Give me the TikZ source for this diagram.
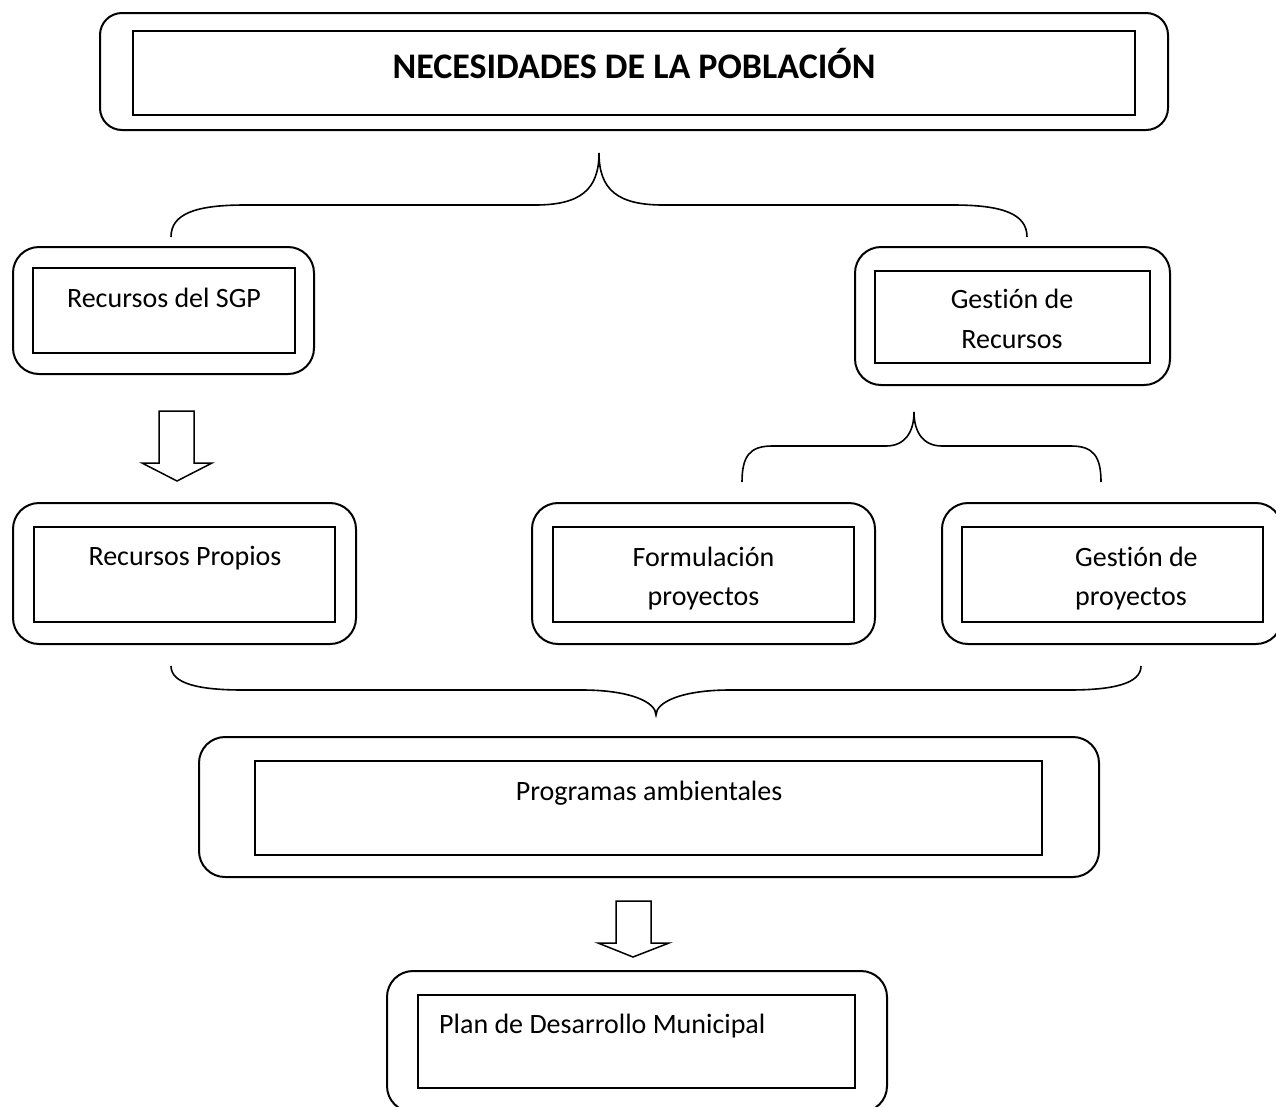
\documentclass[tikz,border=0pt]{standalone}
\usepackage{fontspec}
\setmainfont{Carlito}[Ligatures={NoCommon}]
\begin{document}
\begin{tikzpicture}[x=1pt,y=-1pt,
  outerbox/.style={draw, line width=2pt, rounded corners=26pt, rectangle, inner sep=0pt, outer sep=0pt},
  innerbox/.style={draw, line width=1.8pt, rectangle, inner sep=0pt, outer sep=0pt},
  lbl/.style={font=\fontsize{28}{40}\selectfont, inner sep=0pt, anchor=base},
  bracel/.style={draw, line width=1.6pt},
  hollow/.style={draw, line width=1.5pt, fill=white, line join=miter}
]
\useasboundingbox (0,0) rectangle (1276,1106);
\clip (0,0) rectangle (1276,1106);

% Top box
\node[outerbox, rounded corners=22pt, minimum width=1068pt, minimum height=117pt] (topO) at (634,71.5) {};
\node[innerbox, minimum width=1002pt, minimum height=84pt] (topI) at (634,73) {};
\node[inner sep=0pt, anchor=base, font=\fontsize{36}{44}\selectfont\bfseries] (title) at (634,78) {NECESIDADES DE LA POBLACIÓN};

% Recursos del SGP
\node[outerbox, minimum width=301pt, minimum height=127pt] (sgpO) at (163.5,310.5) {};
\node[innerbox, minimum width=262pt, minimum height=85pt] (sgpI) at (164,310.5) {};
\node[lbl] (sgpT) at (164,307) {Recursos del SGP};

% Gestion de Recursos
\node[outerbox, minimum width=315pt, minimum height=138pt] (grO) at (1012.5,316) {};
\node[innerbox, minimum width=275pt, minimum height=92pt] (grI) at (1012.5,317) {};
\node[lbl] (grT1) at (1012,308) {Gestión de};
\node[lbl] (grT2) at (1012,348) {Recursos};

% Recursos Propios
\node[outerbox, minimum width=343pt, minimum height=141pt] (rpO) at (184.5,573.5) {};
\node[innerbox, minimum width=301pt, minimum height=95pt] (rpI) at (184.5,574.5) {};
\node[lbl] (rpT) at (185,565) {Recursos Propios};

% Formulacion proyectos
\node[outerbox, minimum width=343pt, minimum height=141pt] (fpO) at (703.5,573.5) {};
\node[innerbox, minimum width=301pt, minimum height=95pt] (fpI) at (703.5,574.5) {};
\node[lbl] (fpT1) at (703.5,566) {Formulación};
\node[lbl] (fpT2) at (703.5,605) {proyectos};

% Gestion de proyectos
\node[outerbox, minimum width=340pt, minimum height=141pt] (gpO) at (1112,573.5) {};
\node[innerbox, minimum width=301pt, minimum height=95pt] (gpI) at (1112.5,574.5) {};
\node[lbl, anchor=base west] (gpT1) at (1075,566) {Gestión de};
\node[lbl, anchor=base west] (gpT2) at (1075,605) {proyectos};

% Programas ambientales
\node[outerbox, minimum width=900pt, minimum height=140pt] (paO) at (649,807) {};
\node[innerbox, minimum width=787pt, minimum height=94pt] (paI) at (648.5,808) {};
\node[lbl] (paT) at (649,800) {Programas ambientales};

% Plan de Desarrollo Municipal
\node[outerbox, minimum width=500pt, minimum height=141pt] (pdO) at (637,1041.5) {};
\node[innerbox, minimum width=437pt, minimum height=93pt] (pdI) at (636.5,1041.5) {};
\node[lbl, anchor=base west] (pdT) at (439,1033) {Plan de Desarrollo Municipal};

% Brace 1 (tip up)
\coordinate (b1tip) at (599,153);
\coordinate (b1l) at (171,237);
\coordinate (b1r) at (1027,237);
\draw[bracel] (b1l) .. controls (171,214) and (195,205) .. (245,205) -- (535,205)
  .. controls (580,205) and (599,190) .. (b1tip)
  .. controls (599,190) and (618,205) .. (663,205) -- (953,205)
  .. controls (1003,205) and (1027,214) .. (b1r);

% Brace 2 (tip up)
\coordinate (b2tip) at (914,412);
\coordinate (b2l) at (742,482);
\coordinate (b2r) at (1101,482);
\draw[bracel] (b2l) .. controls (742,456) and (750,446) .. (772,446) -- (886,446)
  .. controls (905,446) and (914,432) .. (b2tip)
  .. controls (914,432) and (923,446) .. (942,446) -- (1071,446)
  .. controls (1093,446) and (1101,456) .. (b2r);

% Brace 3 (tip down)
\coordinate (b3tip) at (656,715);
\coordinate (b3l) at (171,666);
\coordinate (b3r) at (1141,666);
\draw[bracel] (b3l) .. controls (171,684) and (200,690) .. (243,690) -- (582,690)
  .. controls (630,690) and (656,702) .. (b3tip)
  .. controls (656,702) and (682,690) .. (730,690) -- (1069,690)
  .. controls (1112,690) and (1141,684) .. (b3r);

% Hollow arrows
\draw[hollow] (159,411) -- (194,411) -- (194,463) -- (212,463) -- (177,481) -- (142,463) -- (159,463) -- cycle;
\draw[hollow] (616,901) -- (651,901) -- (651,943) -- (669,943) -- (633,957) -- (598,943) -- (616,943) -- cycle;
\end{tikzpicture}
\end{document}
